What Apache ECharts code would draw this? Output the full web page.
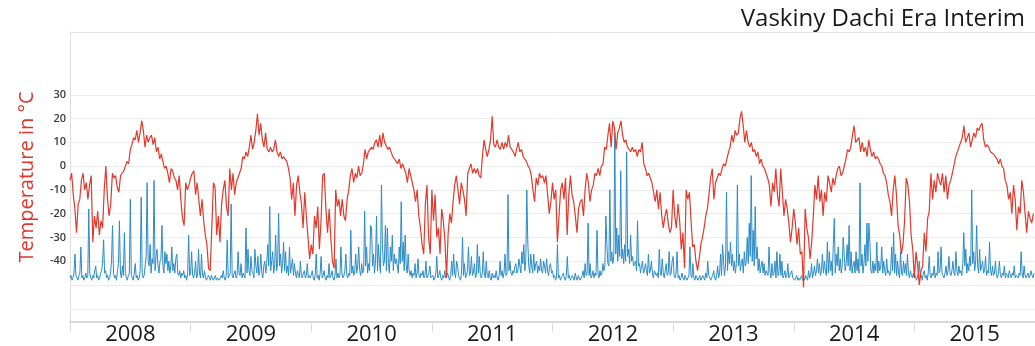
<!DOCTYPE html>
<html>
<head>
<meta charset="utf-8">
<script src="https://cdn.jsdelivr.net/npm/echarts@6/dist/echarts.min.js"></script>
<style>
  html, body { margin: 0; padding: 0; background: #fff; }
  #chart { width: 1035px; height: 346px; }
</style>
</head>
<body>
<div id="chart"></div>
<script>
// Year labels on the time axis
const YEARS = ['2008', '2009', '2010', '2011', '2012', '2013', '2014', '2015'];
const FIRST_YEAR = 2008;

// Temperature axis: labelled values and grid line values (°C)
const Y_LABELS = [-40, -30, -20, -10, 0, 10, 20, 30];
const Y_GRID = [-60, -50, -40, -30, -20, -10, 0, 10, 20, 30];
const Y_MIN = -65.57;
const Y_MAX = 56.41;

// Air temperature (°C), evenly spaced through each year
const TEMP_2008 = [-6,-3,-12,-18,-28,-16,-14,-6,-3,-10,-7,-14,-8,-4,-32,-21,-26,-19,-29,-23,-26,-10,0,-14,-21,-16,-3,-5,-4,-9,-11,-4,-3,-2,0,2,1,7,9,12,11,15,10,14,19,15,8,13,10,12,13,9,12,6,8,3,5,2,-1,0,-3,-7,-1,-2,-5,-6,-10,-4,-14,-22,-25,-7,-10,-8];
const TEMP_2009 = [-5,-3,-2,-12,-7,-14,-21,-14,-23,-29,-33,-43,-44,-26,-7,-9,-29,-21,-32,-16,-10,-6,-17,-21,-1,-10,-3,-12,-7,-5,-3,-1,4,3,6,4,8,13,7,10,15,22,13,18,11,8,14,7,6,8,6,7,11,6,4,6,3,4,4,2,-1,-5,-14,-7,-21,-8,-4,-11,-16,-26,-11,-21,-30,-39];
const TEMP_2010 = [-33,-37,-21,-26,-17,-35,-23,-4,-3,-18,-28,-18,-30,-40,-43,-10,-17,-14,-21,-14,-21,-23,-14,-10,-4,-1,-7,-3,-5,0,-4,-3,1,7,3,6,6,8,7,10,11,8,13,8,14,10,10,7,8,6,4,3,2,1,3,-1,1,-1,-3,-7,-1,-4,-7,-10,-15,-10,-21,-26,-33,-37,-16,-8,-30,-37];
const TEMP_2011 = [-10,-23,-12,-30,-26,-37,-18,-23,-31,-47,-28,-20,-24,-15,-8,-4,-10,-16,-7,-10,-14,-21,-3,-1,1,-3,-1,-3,-1,-4,-5,4,11,7,4,7,11,21,9,8,11,8,7,10,7,10,8,13,8,7,6,4,7,10,6,7,4,3,2,0,-1,-4,-10,-15,-5,-8,-3,-5,-4,-7,-4,-12,-20,-15];
const TEMP_2012 = [-7,-14,-10,-32,-21,-10,-7,-14,-5,-29,-12,-4,-12,-15,-21,-28,-18,-15,-14,-21,-10,-3,-7,-15,-10,-8,-3,-4,-1,-4,0,1,8,7,13,18,8,19,16,7,14,16,19,13,10,11,8,7,6,8,6,7,4,7,6,10,1,-1,-4,-3,-5,-7,-11,-15,-10,-18,-11,-21,-26,-21,-18,-24,-28,-26];
const TEMP_2013 = [-10,-21,-26,-16,-23,-35,-28,-43,-10,-14,-11,-23,-34,-33,-40,-44,-39,-33,-30,-26,-21,-18,-12,-5,-1,-14,-7,-5,-3,-4,-1,1,0,3,6,8,13,10,15,13,14,20,23,17,10,15,10,8,10,6,7,4,6,1,3,0,-1,-3,-5,-8,-17,-7,-11,-1,-12,-17,-1,-11,-21,-14,-18,-24,-32,-26];
const TEMP_2014 = [-18,-24,-33,-26,-37,-36,-51,-18,-26,-30,-39,-32,-21,-8,-14,-4,-15,-10,-21,-11,-15,-4,-7,-11,-5,-8,-4,-1,0,-4,-3,0,3,7,6,8,13,17,10,11,12,6,10,6,8,4,11,7,4,6,3,4,3,1,0,-3,-4,-7,-12,-15,-21,-10,-4,-12,-25,-29,-37,-33,-23,-5,-8,-15,-29,-35];
const TEMP_2015 = [-47,-36,-42,-50,-44,-42,-28,-36,-22,-19,-3,-14,-6,-11,-3,-6,-8,-3,-11,-4,-14,-8,-6,-3,-3,4,6,8,10,12,17,10,12,14,8,11,14,12,16,15,17,18,11,8,9,8,6,6,5,4,3,1,3,0,-1,-6,-8,-14,-11,-20,-8,-14,-27,-17,-20,-6,-11,-20,-28,-19,-22,-24,-20];

// Second record, drawn on the same scale, evenly spaced through each year
const PREC_2008 = [-47,-46,-48,-47,-45,-37,-46,-47,-48,-46,-45,-34,-47,-46,-48,-47,-45,-47,-46,-18,-45,-47,-48,-46,-47,-44,-42,-47,-46,-48,-47,-45,-44,-40,-31,-45,-44,-47,-46,-48,-47,-45,-40,-25,-45,-47,-46,-48,-44,-41,-23,-45,-47,-42,-46,-28,-45,-47,-48,-46,-45,-14,-46,-47,-48,-45,-41,-47,-46,-48,-47,-44,-13,-45,-47,-46,-42,-38,-7,-40,-42,-33,-45,-39,-41,-6,-44,-38,-35,-42,-45,-40,-39,-25,-42,-45,-36,-41,-37,-44,-40,-45,-42,-34,-44,-41,-45,-39,-37,-45,-46,-44,-47,-45,-46,-44,-47,-46,-48,-45,-29,-46];
const PREC_2009 = [-45,-36,-46,-47,-45,-40,-47,-46,-35,-45,-47,-37,-46,-47,-44,-47,-48,-47,-46,-47,-48,-46,-47,-48,-47,-46,-48,-47,-47,-48,-47,-46,-47,-44,-47,-48,-46,-31,-47,-46,-45,-16,-46,-47,-45,-44,-47,-46,-36,-45,-46,-41,-47,-45,-46,-47,-26,-45,-35,-44,-46,-38,-44,-45,-47,-35,-42,-45,-38,-46,-44,-37,-45,-47,-42,-40,-45,-41,-33,-42,-17,-44,-40,-36,-45,-42,-29,-44,-41,-20,-42,-37,-45,-41,-32,-44,-36,-45,-42,-46,-34,-45,-42,-39,-46,-41,-45,-47,-44,-46,-47,-40,-46,-47,-45,-44,-47,-46,-41,-47,-46,-47];
const PREC_2010 = [-46,-44,-47,-48,-46,-37,-47,-46,-48,-45,-38,-47,-46,-44,-47,-48,-46,-47,-41,-47,-46,-44,-47,-48,-46,-39,-47,-45,-47,-46,-34,-45,-47,-46,-44,-37,-46,-47,-45,-46,-27,-45,-42,-46,-44,-37,-45,-42,-34,-44,-46,-41,-45,-44,-19,-42,-34,-45,-41,-44,-25,-26,-42,-37,-45,-40,-21,-44,-33,-41,-45,-8,-33,-42,-40,-25,-44,-26,-41,-45,-34,-40,-29,-44,-37,-41,-39,-42,-45,-34,-41,-15,-40,-32,-44,-29,-42,-45,-37,-44,-46,-44,-47,-45,-46,-41,-47,-45,-39,-46,-47,-45,-46,-44,-47,-46,-40,-47,-46,-45,-42,-47];
const PREC_2011 = [-47,-46,-48,-47,-45,-38,-47,-46,-44,-47,-48,-46,-47,-44,-47,-46,-45,-47,-48,-46,-40,-46,-37,-45,-47,-40,-42,-46,-47,-48,-45,-30,-46,-41,-47,-46,-44,-34,-46,-45,-38,-46,-45,-41,-47,-46,-33,-45,-38,-46,-47,-45,-36,-46,-47,-40,-46,-47,-44,-47,-48,-45,-47,-46,-47,-44,-47,-48,-46,-40,-46,-44,-47,-45,-37,-46,-45,-12,-44,-40,-45,-46,-44,-45,-42,-41,-45,-44,-39,-42,-45,-36,-41,-33,-44,-40,-10,-32,-42,-45,-37,-42,-45,-37,-44,-41,-40,-45,-42,-44,-39,-44,-45,-40,-42,-45,-39,-44,-46,-42,-41,-45];
const PREC_2012 = [-44,-47,-46,-48,-47,-33,-47,-46,-48,-47,-46,-45,-47,-48,-46,-38,-47,-46,-48,-47,-46,-47,-48,-45,-47,-48,-46,-47,-48,-47,-46,-44,-47,-41,-46,-45,-24,-46,-41,-47,-46,-44,-47,-45,-46,-27,-45,-47,-44,-46,-45,-41,-44,-42,-21,-33,-41,-42,-10,-40,-36,-41,-38,14,-37,-26,-40,-29,-38,-2,-39,-35,-41,-33,-40,6,-38,-35,-41,-29,-40,-38,-42,-41,-40,-44,-23,-42,-41,-45,-42,-40,-45,-44,-41,-44,-46,-37,-45,-44,-40,-45,-47,-44,-44,-46,-45,-47,-35,-45,-46,-39,-45,-47,-44,-41,-46,-45,-36,-46,-45,-40];
const PREC_2013 = [-38,-46,-47,-45,-36,-47,-46,-48,-47,-45,-47,-48,-46,-47,-48,-47,-46,-34,-46,-47,-41,-47,-48,-46,-47,-48,-47,-46,-48,-47,-46,-47,-48,-45,-47,-40,-46,-47,-48,-47,-46,-44,-47,-48,-46,-42,-47,-45,-37,-46,-33,-40,-46,-42,-11,-44,-36,-41,-32,-42,-37,-44,-40,-45,-41,-8,-42,-37,-44,-41,-39,-45,-36,-42,-40,-30,-41,-24,-38,-4,-40,-27,-42,-17,-39,-34,-44,-39,-45,-42,-40,-45,-41,-46,-44,-44,-46,-34,-45,-47,-41,-46,-45,-40,-47,-36,-46,-45,-37,-46,-40,-47,-46,-44,-47,-46,-41,-47,-46,-45,-44,-47];
const PREC_2014 = [-47,-48,-47,-46,-48,-47,-48,-47,-46,-48,-47,-48,-46,-47,-48,-44,-47,-46,-41,-47,-45,-42,-46,-44,-39,-45,-41,-46,-44,-37,-45,-40,-44,-46,-32,-45,-36,-44,-40,-46,-33,-22,-45,-37,-42,-34,-44,-39,-45,-42,-30,-37,-44,-41,-33,-42,-25,-44,-36,-45,-42,-40,-45,-36,-44,-39,-45,-7,-42,-37,-45,-41,-33,-42,-24,-40,-24,-32,-44,-45,-40,-45,-41,-44,-32,-45,-40,-44,-42,-34,-45,-40,-44,-46,-39,-45,-44,-46,-45,-34,-44,-28,-45,-37,-46,-40,-45,-47,-36,-45,-46,-40,-45,-41,-46,-37,-45,-47,-44,-46,-47,-45];
const PREC_2015 = [-47,-46,-48,-47,-45,-40,-47,-46,-48,-45,-44,-47,-46,-48,-45,-38,-46,-47,-45,-46,-42,-47,-45,-46,-36,-45,-44,-34,-45,-46,-47,-45,-42,-46,-44,-38,-45,-46,-44,-40,-45,-46,-36,-44,-46,-42,-45,-44,-46,-41,-28,-42,-35,-45,-41,-44,-38,-42,-10,-41,-36,-44,-40,-25,-42,-45,-35,-44,-42,-40,-45,-44,-38,-46,-44,-45,-32,-44,-46,-42,-46,-45,-40,-46,-47,-45,-40,-46,-47,-45,-46,-42,-47,-45,-46,-47,-44,-46,-47,-45,-46,-42,-47,-46,-46,-47,-45,-46,-36,-45,-47,-42,-46,-47,-46,-45,-47,-46,-44,-46,-47,-45];

const TEMP_YEARS = [TEMP_2008, TEMP_2009, TEMP_2010, TEMP_2011, TEMP_2012, TEMP_2013, TEMP_2014, TEMP_2015];
const PREC_YEARS = [PREC_2008, PREC_2009, PREC_2010, PREC_2011, PREC_2012, PREC_2013, PREC_2014, PREC_2015];

// Place each year's samples at fractional-year positions
function toSeries(years) {
  const out = [];
  years.forEach((vals, k) => {
    vals.forEach((v, i) => out.push([FIRST_YEAR + k + i / vals.length, v]));
  });
  return out;
}

const chart = echarts.init(document.getElementById('chart'), null, { renderer: 'canvas' });

chart.setOption({
  animation: false,
  backgroundColor: '#ffffff',
  title: {
    text: 'Vaskiny Dachi Era Interim',
    right: 10,
    top: 7,
    padding: 0,
    textStyle: { fontFamily: 'Open Sans', fontSize: 24, fontWeight: 'normal', color: '#1a1a1a' }
  },
  grid: { left: 70, right: 0, top: 32, bottom: 23 },
  xAxis: [
    {
      type: 'value', min: FIRST_YEAR, max: FIRST_YEAR + YEARS.length, show: false
    },
    {
      type: 'category', data: YEARS, position: 'bottom', boundaryGap: true,
      axisLine: { show: true, lineStyle: { color: '#d8d8d8', width: 2 } },
      axisTick: { show: true, length: 10, lineStyle: { color: '#dcdcdc', width: 1 } },
      axisLabel: { fontFamily: 'Open Sans', fontSize: 22, color: '#1a1a1a', margin: 2 },
      splitLine: { show: false }
    },
    {
      type: 'value', position: 'top', min: 0, max: 1,
      axisLine: { show: true, lineStyle: { color: '#e4e4e4', width: 1 } },
      axisTick: { show: false }, axisLabel: { show: false }, splitLine: { show: false }
    }
  ],
  yAxis: {
    type: 'value', min: Y_MIN, max: Y_MAX,
    name: 'Temperature in °C', nameLocation: 'middle', nameGap: 33, nameRotate: 90,
    nameTextStyle: { fontFamily: 'Open Sans', fontSize: 20, color: '#e2332b' },
    axisLine: { show: true, lineStyle: { color: '#dedede', width: 1 } },
    axisTick: { show: false, customValues: Y_GRID },
    axisLabel: {
      customValues: Y_LABELS, margin: 4,
      fontFamily: 'Open Sans', fontSize: 11, fontWeight: 600, color: '#3a3a3a'
    },
    splitLine: { show: true, lineStyle: { color: '#ececec', width: 1 } }
  },
  series: [
    {
      name: 'precipitation', type: 'line', xAxisIndex: 0,
      data: toSeries(PREC_YEARS), showSymbol: false, silent: true,
      lineStyle: { color: '#2b8bc6', width: 1 }
    },
    {
      name: 'temperature', type: 'line', xAxisIndex: 0,
      data: toSeries(TEMP_YEARS), showSymbol: false, silent: true,
      lineStyle: { color: '#e3392c', width: 1.2 }
    }
  ]
});
</script>
</body>
</html>
